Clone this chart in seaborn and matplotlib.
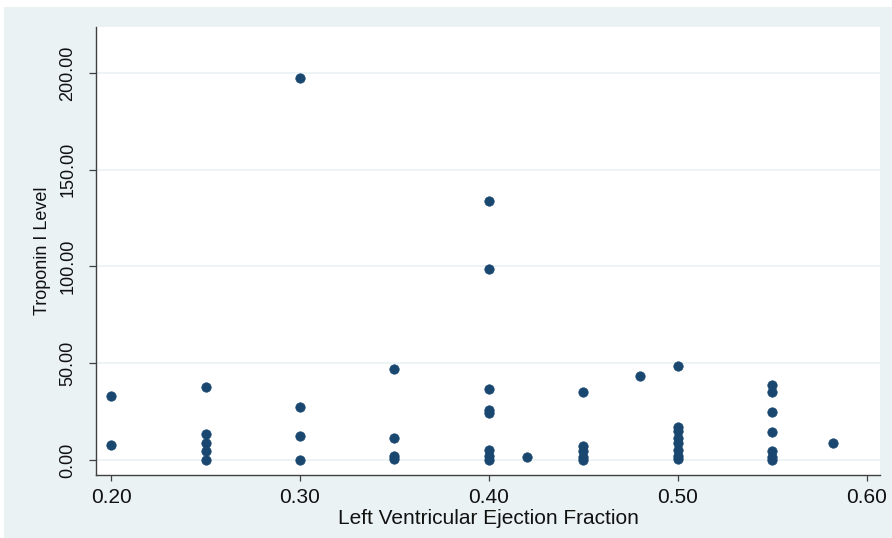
"""
Troponin I vs LVEF scatter (Stata-style look)
"""
import matplotlib
matplotlib.use("Agg")
import matplotlib.pyplot as plt
import matplotlib.patches as mpatches
import seaborn as sns
import pandas as pd
from matplotlib.ticker import FormatStrFormatter

# data
lvef = (
    [0.20] * 2
    + [0.25] * 5
    + [0.30] * 4
    + [0.35] * 4
    + [0.40] * 8
    + [0.42]
    + [0.45] * 5
    + [0.48]
    + [0.50] * 8
    + [0.55] * 7
    + [0.582]
)
troponin = (
    [33.0, 7.7]
    + [37.5, 13.4, 8.6, 4.8, 0.2]
    + [197.4, 27.2, 12.4, 0.2]
    + [46.9, 11.2, 1.8, 0.3]
    + [133.8, 98.6, 36.9, 26.0, 24.3, 5.2, 2.0, 0.2]
    + [1.7]
    + [35.3, 7.0, 4.5, 1.5, 0.2]
    + [43.4]
    + [48.6, 17.0, 15.0, 11.5, 8.5, 5.0, 2.0, 0.4]
    + [38.8, 35.2, 25.0, 14.3, 4.8, 1.5, 0.2]
    + [9.0]
)
x_ticks = [0.20, 0.30, 0.40, 0.50, 0.60]
y_ticks = [0, 50, 100, 150, 200]

df = pd.DataFrame({"lvef": lvef, "troponin": troponin})

BG = "#EAF2F3"
NAVY = "#1A476F"
INK = "#111111"

sns.set_theme(style="white")
plt.rcParams["font.family"] = ["Liberation Sans", "DejaVu Sans"]

fig = plt.figure(figsize=(8.92, 5.38), dpi=100)
fig.patch.set_facecolor("white")
# outer stata-like background panel
fig.patches.append(mpatches.Rectangle((4 / 892, 0), 1, 1 - 7 / 538,
                                      transform=fig.transFigure,
                                      facecolor=BG, edgecolor="none", zorder=-10))

ax = fig.add_axes([96 / 892, 1 - 475 / 538, 784 / 892, 448 / 538])
ax.set_facecolor("white")

sns.scatterplot(data=df, x="lvef", y="troponin", ax=ax, color=NAVY,
                s=46, edgecolor=NAVY, linewidth=0.5, zorder=3)

ax.set_xlim(0.192, 0.607)
ax.set_ylim(-7.8, 223.8)
ax.set_xticks(x_ticks)
ax.set_yticks(y_ticks)
ax.xaxis.set_major_formatter(FormatStrFormatter("%.2f"))
ax.yaxis.set_major_formatter(FormatStrFormatter("%.2f"))
ax.yaxis.grid(True, color=BG, linewidth=1.2, zorder=0)
ax.xaxis.grid(False)

for side in ["top", "right"]:
    ax.spines[side].set_visible(False)
for side in ["left", "bottom"]:
    ax.spines[side].set_color("#404040")
    ax.spines[side].set_linewidth(1.0)

ax.tick_params(axis="x", length=4.5, width=0.9, color="#404040",
               labelsize=15, labelcolor=INK, pad=5, bottom=True)
ax.tick_params(axis="y", length=5, width=0.9, color="#404040",
               labelsize=13, labelcolor=INK, pad=9, left=True)
plt.setp(ax.get_yticklabels(), rotation=90, va="center")

ax.set_xlabel("Left Ventricular Ejection Fraction", fontsize=15,
              color=INK, labelpad=1)
ax.set_ylabel("Troponin I Level", fontsize=13, color=INK, labelpad=6)

plt.savefig("out.png", dpi=100, facecolor=fig.get_facecolor())
